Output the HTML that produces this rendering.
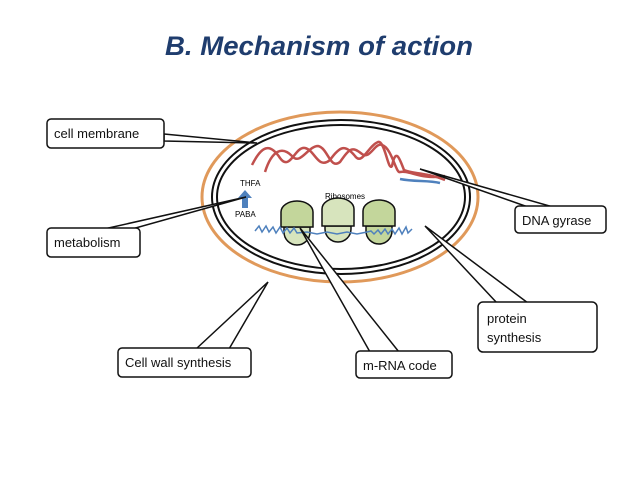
<!DOCTYPE html>
<html><head><meta charset="utf-8"><style>
html,body{margin:0;padding:0;background:#fff;}
svg{display:block;}
text{font-family:"Liberation Sans",sans-serif;}
</style></head><body>
<svg width="638" height="479" viewBox="0 0 638 479" xmlns="http://www.w3.org/2000/svg">
<rect width="638" height="479" fill="#fff"/>
<text x="165" y="55" font-size="27" font-weight="bold" font-style="italic" fill="#1f3d6e" textLength="308" lengthAdjust="spacingAndGlyphs">B. Mechanism of action</text>

<ellipse cx="340" cy="197" rx="138" ry="85" fill="none" stroke="#e0995a" stroke-width="3"/>
<ellipse cx="341" cy="197" rx="129" ry="77" fill="#fff" stroke="#111" stroke-width="2"/>
<ellipse cx="341" cy="197" rx="124" ry="72" fill="none" stroke="#111" stroke-width="2"/>

<!-- DNA -->
<path d="M252,165 C262,145 270,143 280,158 C290,172 295,146 305,148 C315,150 318,170 330,160 C340,146 345,144 355,156 C362,166 368,146 378,142 C385,140 388,172 392,166 C396,146 400,160 404,170 C412,174 425,172 445,180" fill="none" stroke="#c0504d" stroke-width="2.5"/>
<path d="M265,172 C272,150 282,146 292,156 C300,166 308,146 318,146 C328,148 330,170 340,162 C350,148 352,146 362,154 C370,160 375,142 382,145 C392,148 396,174 400,172 C410,170 420,180 445,176" fill="none" stroke="#c0504d" stroke-width="2.5"/>
<path d="M400,179 C415,182 428,180 440,183" fill="none" stroke="#4f81bd" stroke-width="2.5"/>

<!-- arrow PABA->THFA -->
<polygon points="245,190 238,198 242,198 242,208 248,208 248,198 252,198" fill="#4f81bd"/>
<text x="240" y="186" font-size="8">THFA</text>
<text x="235" y="217" font-size="8">PABA</text>
<text x="325" y="199" font-size="8">Ribosomes</text>

<!-- ribosomes -->
<g stroke="#111" stroke-width="1.5">
<path d="M284,227 L284,232 A13,13 0 0 0 310,232 L310,227 Z" fill="#d7e4bd"/>
<path d="M281,227 L281,212 A16,11 0 0 1 313,212 L313,227 Z" fill="#c3d69b"/>
<path d="M325,226 L325,229 A13,13 0 0 0 351,229 L351,226 Z" fill="#d7e4bd"/>
<path d="M322,226 L322,209 A16,11 0 0 1 354,209 L354,226 Z" fill="#d7e4bd"/>
<path d="M366,226 L366,231 A13,13 0 0 0 392,231 L392,226 Z" fill="#c3d69b"/>
<path d="M363,226 L363,211 A16,11 0 0 1 395,211 L395,226 Z" fill="#c3d69b"/>
</g>
<path d="M255,231 l4,-5 3,6 4,-6 3,6 4,-5 3,6 4,-6 3,6 4,-5 3,5 4,-5 3,5 10,-1 10,2 10,-2 10,2 10,-2 10,2 10,-2 4,-1 3,3 4,-4 3,4 4,-5 3,5 4,-5 3,5 4,-6 3,6 4,-7 2,6 4,-4" fill="none" stroke="#4f81bd" stroke-width="1.5"/>

<!-- wedges -->
<g fill="#fff" stroke="#111" stroke-width="1.5" stroke-linejoin="miter">
<polygon points="164,134 257,143 164,141"/>
<polygon points="104,229 246,197 132,229"/>
<polygon points="196,349 268,282 229,349"/>
<polygon points="528,207 420,169 553,207"/>
<polygon points="497,303 425,226 528,303"/>
<polygon points="370,352 300,228 399,352"/>
</g>

<!-- boxes -->
<g fill="#fff" stroke="#111" stroke-width="1.5">
<rect x="47" y="119" width="117" height="29" rx="4"/>
<rect x="47" y="228" width="93" height="29" rx="4"/>
<rect x="118" y="348" width="133" height="29" rx="4"/>
<rect x="515" y="206" width="91" height="27" rx="4"/>
<rect x="478" y="302" width="119" height="50" rx="5"/>
<rect x="356" y="351" width="96" height="27" rx="4"/>
</g>
<g font-size="13" fill="#111">
<text x="54" y="138">cell membrane</text>
<text x="54" y="247">metabolism</text>
<text x="125" y="367">Cell wall synthesis</text>
<text x="522" y="225">DNA gyrase</text>
<text x="487" y="323">protein</text>
<text x="487" y="342">synthesis</text>
<text x="363" y="370">m-RNA code</text>
</g>
</svg>
</body></html>
